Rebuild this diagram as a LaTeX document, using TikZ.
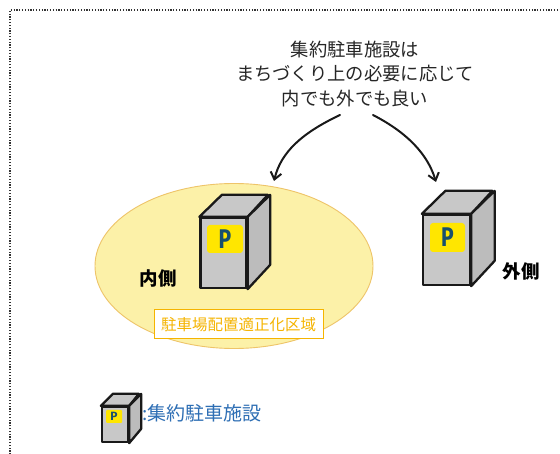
\documentclass[tikz,border=0pt]{standalone}
\usepackage{fontspec}
\newfontfamily\jp{Noto Sans CJK JP}
\newfontfamily\plabel{Fira Sans}
\usetikzlibrary{arrows.meta,shapes.geometric}
\definecolor{zonefill}{RGB}{252,241,168}
\definecolor{zoneedge}{RGB}{238,196,105}
\definecolor{boxgray}{RGB}{200,200,200}
\definecolor{boxside}{RGB}{188,188,188}
\definecolor{badge}{RGB}{255,230,0}
\definecolor{pteal}{RGB}{24,80,110}
\definecolor{zonetext}{RGB}{245,180,0}
\definecolor{legendblue}{RGB}{45,110,180}
\tikzset{
  frame/.style={line width=1.1pt, dash pattern=on 1.2pt off 1.6pt, black!80},
  zone/.style={fill=zonefill, draw=zoneedge, line width=0.9pt},
  front/.style={draw=black!90, fill=boxgray, line width=2.3pt, line join=round, inner sep=0pt},
  face/.style={draw=black!90, line width=2.3pt, line join=round},
  pbadge/.style={fill=badge, rounded corners=3pt, inner sep=0pt, text=pteal,
    font=\plabel\bfseries\fontsize{27}{27}\selectfont},
  note/.style={font=\jp\fontsize{18.3}{24.5}\selectfont, text=black!85, align=center},
  side/.style={font=\jp\bfseries\fontsize{18.5}{18.5}\selectfont, text=black},
  zonelabel/.style={draw=zonetext, fill=white, line width=1pt, text=zonetext,
    font=\jp\fontsize{15.5}{15.5}\selectfont, minimum width=169pt, minimum height=29pt, inner sep=0pt},
  pointer/.style={line width=2pt, black!90, -{Straight Barb[length=7pt,width=11pt,line width=2pt]}, line cap=round},
}
% parking building: front face node plus top and side faces
\newcommand\parkbldg[6]{%
  % #1 name, #2 centre, #3 width, #4 height, #5 dx, #6 dy
  \node[front, minimum width=#3pt, minimum height=#4pt] (#1) at (#2) {};
  \draw[face, fill=boxgray] (#1.north west) -- ++(#5,-#6) -- ++(#3,0) -- (#1.north east) -- cycle;
  \draw[face, fill=boxside] (#1.north east) -- ++(#5,-#6) -- ++(0,#4) -- (#1.south east) -- cycle;
}
\newcommand\narrowP{\scalebox{0.78}[1]{P}}
\begin{document}
\begin{tikzpicture}[x=1pt,y=-1pt]
\useasboundingbox (0,0) rectangle (560,454);
\fill[white] (0,0) rectangle (560,454);

% dotted frame
\draw[frame] (10,460) -- (10,10) -- (566,10);

% parking-placement zone
\node[zone, ellipse, minimum width=278pt, minimum height=165pt] (zone) at (234,266) {};

% inside building
\parkbldg{inbox}{223.5,253}{46}{70}{22.5}{22}
\node[pbadge, minimum width=36pt, minimum height=28pt] (inP) at (225,239) {\narrowP};

% outside building
\parkbldg{outbox}{446.5,250}{47}{70}{23.5}{23}
\node[pbadge, minimum width=35pt, minimum height=29pt] (outP) at (447.5,237.5) {\narrowP};

% labels
\node[side] (inlabel) at (158,278) {内側};
\node[side] (outlabel) at (521,271) {外側};
\node[zonelabel] (zonename) at (238.5,324.5) {駐車場配置適正化区域};

% note and arrows
\node[note] (note) at (355,74) {集約駐車施設は\\まちづくり上の必要に応じて\\内でも外でも良い};
\coordinate (inarrow) at (274,181);
\coordinate (outarrow) at (436,182);
\draw[pointer] (340,115) .. controls (302,133) and (281,152) .. (inarrow);
\draw[pointer] (373,115) .. controls (408,133) and (428,155) .. (outarrow);

% legend
\parkbldg{legbox}{115,424.5}{26}{35}{12}{12}
\node[pbadge, minimum width=16pt, minimum height=13pt, rounded corners=1pt,
  font=\plabel\bfseries\fontsize{12}{12}\selectfont] (legP) at (114,416.5) {P};
\node[anchor=west, text=legendblue, font=\jp\fontsize{19}{19}\selectfont, inner sep=0pt] (legtext) at (142,413) {:集約駐車施設};
\end{tikzpicture}
\end{document}
